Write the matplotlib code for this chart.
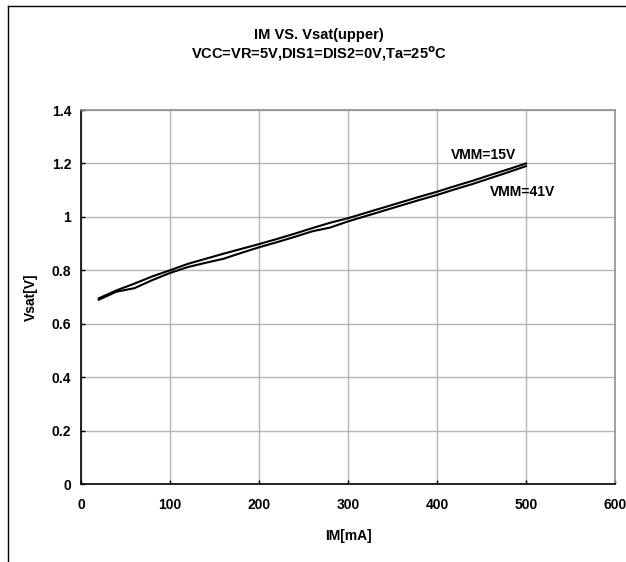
import numpy as np
import matplotlib as mpl
import matplotlib.pyplot as plt
from matplotlib.lines import Line2D

mpl.rcParams['font.family'] = ['Liberation Sans', 'DejaVu Sans']
mpl.rcParams['font.weight'] = 'bold'

# IM [mA]
im_ma = [20, 40, 60, 80, 100, 120, 140, 160, 180, 200, 220, 240, 260,
         280, 300, 320, 340, 360, 380, 400, 420, 440, 460, 480, 500]
# Vsat [V], VMM=15V
vsat_15v = [0.695, 0.725, 0.750, 0.777, 0.800, 0.824, 0.843, 0.862, 0.880,
            0.898, 0.917, 0.937, 0.958, 0.978, 0.995, 1.015, 1.035, 1.055,
            1.075, 1.094, 1.115, 1.135, 1.157, 1.178, 1.200]
# Vsat [V], VMM=41V
vsat_41v = [0.690, 0.720, 0.733, 0.763, 0.790, 0.812, 0.828, 0.843, 0.865,
            0.886, 0.905, 0.925, 0.946, 0.960, 0.983, 1.003, 1.023, 1.043,
            1.063, 1.082, 1.103, 1.123, 1.145, 1.167, 1.190]

x_ticks = [0, 100, 200, 300, 400, 500, 600]
y_ticks = [0, 0.2, 0.4, 0.6, 0.8, 1.0, 1.2, 1.4]
y_ticklabels = ['0', '0.2', '0.4', '0.6', '0.8', '1', '1.2', '1.4']

fig = plt.figure(figsize=(6.26, 5.62), dpi=100)
ax = fig.add_axes([81/626, 1 - 484/562, (615 - 81)/626, (484 - 110)/562])

ax.plot(im_ma, vsat_15v, color='black', lw=1.5)
ax.plot(im_ma, vsat_41v, color='black', lw=1.5)

ax.set_xlim(0, 600)
ax.set_ylim(0, 1.4)
ax.set_xticks(x_ticks)
ax.set_yticks(y_ticks)
ax.set_yticklabels(y_ticklabels)
ax.grid(True, color='#b4b4b4', lw=1.0)
ax.set_axisbelow(True)
ax.tick_params(labelsize=10, length=3, width=1, direction='in')
ax.tick_params(axis='y', pad=7)
ax.tick_params(axis='x', pad=10)
for s in ['left', 'bottom']:
    ax.spines[s].set_color('black')
    ax.spines[s].set_linewidth(1.2)
for s in ['top', 'right']:
    ax.spines[s].set_color('#909090')
    ax.spines[s].set_linewidth(1.2)

ax.set_xlabel('IM[mA]', fontsize=10, fontweight='bold', labelpad=12)
ax.set_ylabel('Vsat[V]', fontsize=10, fontweight='bold', labelpad=10)

ax.text(452, 1.23, 'VMM=15V', fontsize=10, fontweight='bold', ha='center', va='center')
ax.text(496, 1.093, 'VMM=41V', fontsize=10, fontweight='bold', ha='center', va='center')

fig.text(319/626, 1 - 35/562, 'IM VS. Vsat(upper)', fontsize=10.5, fontweight='bold',
         ha='center', va='center')
fig.text(319/626, 1 - 54/562, 'VCC=VR=5V,DIS1=DIS2=0V,Ta=25$^{\\mathrm{o}}$C', fontsize=10.5,
         fontweight='bold', ha='center', va='center')

# outer chart border (top and left edges visible)
fig.add_artist(Line2D([7.5/626, 7.5/626], [0, 1 - 6/562], color='black', lw=1.0,
                      transform=fig.transFigure))
fig.add_artist(Line2D([7.5/626, 1], [1 - 6/562, 1 - 6/562], color='black', lw=1.0,
                      transform=fig.transFigure))

fig.savefig('out.png', dpi=100)
